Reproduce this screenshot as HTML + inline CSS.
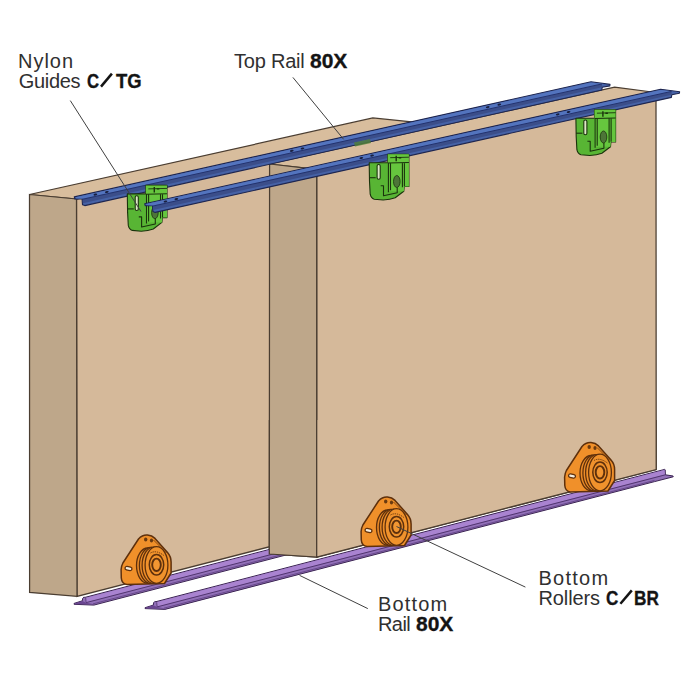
<!DOCTYPE html>
<html><head><meta charset="utf-8"><style>
html,body{margin:0;padding:0;background:#fff;width:700px;height:700px;overflow:hidden}
svg{position:absolute;left:0;top:0}
.t{position:absolute;font-family:"Liberation Sans",sans-serif;line-height:20px;color:#303030;white-space:nowrap}
.b{-webkit-text-stroke:0.35px #141414;color:#141414}
</style></head><body>
<svg width="700" height="700" viewBox="0 0 700 700">
<defs><clipPath id="lowclip"><rect x="0" y="420" width="700" height="200"/></clipPath></defs>
<polygon points="76.5,199.0 419.0,122.6 419.0,508.2 77.0,596.4" fill="#d5b99a" stroke="#4a3d31" stroke-width="1.25"/>
<polygon points="29.5,194.5 372.8,118.0 419.0,122.6 76.5,199.0" fill="#d8bd9d" stroke="#4a3d31" stroke-width="1.25"/>
<polygon points="29.5,194.5 76.5,199.0 77.0,596.4 29.6,592.4" fill="#bea78a" stroke="#4a3d31" stroke-width="1.25"/>
<polygon points="316.7,169.3 656.0,92.5 656.2,469.5 316.7,557.1" fill="#d5b99a" stroke="#4a3d31" stroke-width="1.25"/>
<polygon points="269.6,164.0 614.6,87.1 656.0,92.5 316.7,169.3" fill="#d8bd9d" stroke="#4a3d31" stroke-width="1.25"/>
<polygon points="269.6,164.0 316.7,169.3 316.7,557.1 269.3,554.0" fill="#bea78a" stroke="#4a3d31" stroke-width="1.25"/>
<polygon points="74.3,196.9 591.0,81.8 610.0,84.4 609.8,85.9 602.2,87.3 601.8,90.0 84.8,205.6 82.5,204.7 82.1,198.9 77.7,198.7 74.9,199.0" fill="#4662a6" stroke="#1e2650" stroke-width="1.1" stroke-linejoin="round"/>
<polygon points="75.5,197.3 591.0,82.5 608.5,84.5 601.0,84.2 82.1,198.8 76.3,198.5" fill="#5374be"/>
<polygon points="82.8,199.6 602.0,84.3 602.0,87.3 82.8,203.3" fill="#3b4e8a"/>
<line x1="82.1" y1="199.4" x2="602.0" y2="83.9" stroke="#1f2c66" stroke-width="0.9"/>
<ellipse cx="95.4" cy="194.6" rx="1.9" ry="1.0" fill="#1a2040" transform="rotate(-12 95.4 194.6)"/>
<ellipse cx="106.9" cy="192.0" rx="1.9" ry="1.0" fill="#1a2040" transform="rotate(-12 106.9 192.0)"/>
<ellipse cx="291.8" cy="150.8" rx="1.9" ry="1.0" fill="#1a2040" transform="rotate(-12 291.8 150.8)"/>
<ellipse cx="302.5" cy="148.5" rx="1.9" ry="1.0" fill="#1a2040" transform="rotate(-12 302.5 148.5)"/>
<ellipse cx="487.7" cy="107.2" rx="1.9" ry="1.0" fill="#1a2040" transform="rotate(-12 487.7 107.2)"/>
<ellipse cx="499.3" cy="104.6" rx="1.9" ry="1.0" fill="#1a2040" transform="rotate(-12 499.3 104.6)"/>
<g transform="translate(127.3,185.4)" stroke="#1a330c" stroke-width="1.1" stroke-linejoin="round" fill="none">
<path d="M0,8.5 L0.3,27 L1,40 Q1.8,44 5,45 L14,45.8 Q21,45.5 26,43.6 L34.6,37 L35,32.2 L39.7,32.2 L39.7,0 L18.6,0 L18.6,8.5 Z" fill="#58b534"/>
<path d="M18.6,0 L39.7,0 L39.7,32.2 L35,32.2 L34.6,37 L18.6,37 Z" fill="#66c63e" stroke="none"/>
<path d="M19.2,8.5 L19.2,38 M21.3,9 L21.3,36 M33.2,9 L33.2,33 M35.2,8 L35.2,32 M18.6,8.8 L39.7,8.3" />
<path d="M21,3.5 L39.7,3" stroke-width="0.9"/>
<path d="M11.5,31.5 L14.3,31.5 L14.3,41.6 L28,38.6 L28,33.2" />
<path d="M0.2,23.5 L6.5,23.5" />
<path d="M27,1.5 L27,7 M29.5,3.5 L32,3.5" stroke-width="1.4"/>
<rect x="7.9" y="10.3" width="3.1" height="14.8" rx="1.5" fill="#dfe8c8"/>
<ellipse cx="27.6" cy="27.3" rx="3.3" ry="6" fill="#4d7538" stroke-width="0.8"/>
</g>
<polygon points="354,142.5 370,139 371,143 355,146.5" fill="#4f7c3a" opacity="0.85"/>
<polygon points="144.7,203.7 660.6,89.2 679.6,91.8 679.4,93.3 671.8,94.7 671.4,97.4 155.2,212.4 152.9,211.5 152.5,205.7 148.1,205.5 145.3,205.8" fill="#4662a6" stroke="#1e2650" stroke-width="1.1" stroke-linejoin="round"/>
<polygon points="145.9,204.1 660.6,89.9 678.1,91.9 670.6,91.6 152.5,205.6 146.7,205.3" fill="#5374be"/>
<polygon points="153.2,206.4 671.6,91.8 671.6,94.8 153.2,210.1" fill="#3b4e8a"/>
<line x1="152.5" y1="206.2" x2="671.6" y2="91.4" stroke="#1f2c66" stroke-width="0.9"/>
<ellipse cx="165.5" cy="201.5" rx="1.9" ry="1.0" fill="#1a2040" transform="rotate(-12 165.5 201.5)"/>
<ellipse cx="176.4" cy="199.1" rx="1.9" ry="1.0" fill="#1a2040" transform="rotate(-12 176.4 199.1)"/>
<ellipse cx="361.4" cy="158.0" rx="1.9" ry="1.0" fill="#1a2040" transform="rotate(-12 361.4 158.0)"/>
<ellipse cx="372.1" cy="155.6" rx="1.9" ry="1.0" fill="#1a2040" transform="rotate(-12 372.1 155.6)"/>
<ellipse cx="557.7" cy="114.4" rx="1.9" ry="1.0" fill="#1a2040" transform="rotate(-12 557.7 114.4)"/>
<ellipse cx="568.6" cy="112.0" rx="1.9" ry="1.0" fill="#1a2040" transform="rotate(-12 568.6 112.0)"/>
<g transform="translate(369.2,154.2)" stroke="#1a330c" stroke-width="1.1" stroke-linejoin="round" fill="none">
<path d="M0,8.5 L0.3,27 L1,40 Q1.8,44 5,45 L14,45.8 Q21,45.5 26,43.6 L34.6,37 L35,32.2 L39.7,32.2 L39.7,0 L18.6,0 L18.6,8.5 Z" fill="#58b534"/>
<path d="M18.6,0 L39.7,0 L39.7,32.2 L35,32.2 L34.6,37 L18.6,37 Z" fill="#66c63e" stroke="none"/>
<path d="M19.2,8.5 L19.2,38 M21.3,9 L21.3,36 M33.2,9 L33.2,33 M35.2,8 L35.2,32 M18.6,8.8 L39.7,8.3" />
<path d="M21,3.5 L39.7,3" stroke-width="0.9"/>
<path d="M11.5,31.5 L14.3,31.5 L14.3,41.6 L28,38.6 L28,33.2" />
<path d="M0.2,23.5 L6.5,23.5" />
<path d="M27,1.5 L27,7 M29.5,3.5 L32,3.5" stroke-width="1.4"/>
<rect x="7.9" y="10.3" width="3.1" height="14.8" rx="1.5" fill="#dfe8c8"/>
<ellipse cx="27.6" cy="27.3" rx="3.3" ry="6" fill="#4d7538" stroke-width="0.8"/>
</g>
<g transform="translate(575.9,109.7)" stroke="#1a330c" stroke-width="1.1" stroke-linejoin="round" fill="none">
<path d="M0,8.5 L0.3,27 L1,40 Q1.8,44 5,45 L14,45.8 Q21,45.5 26,43.6 L34.6,37 L35,32.2 L39.7,32.2 L39.7,0 L18.6,0 L18.6,8.5 Z" fill="#58b534"/>
<path d="M18.6,0 L39.7,0 L39.7,32.2 L35,32.2 L34.6,37 L18.6,37 Z" fill="#66c63e" stroke="none"/>
<path d="M19.2,8.5 L19.2,38 M21.3,9 L21.3,36 M33.2,9 L33.2,33 M35.2,8 L35.2,32 M18.6,8.8 L39.7,8.3" />
<path d="M21,3.5 L39.7,3" stroke-width="0.9"/>
<path d="M11.5,31.5 L14.3,31.5 L14.3,41.6 L28,38.6 L28,33.2" />
<path d="M0.2,23.5 L6.5,23.5" />
<path d="M27,1.5 L27,7 M29.5,3.5 L32,3.5" stroke-width="1.4"/>
<rect x="7.9" y="10.3" width="3.1" height="14.8" rx="1.5" fill="#dfe8c8"/>
<ellipse cx="27.6" cy="27.3" rx="3.3" ry="6" fill="#4d7538" stroke-width="0.8"/>
</g>
<polygon points="74.1,603.4 82.3,600.8 82.7,598.3 83.9,597.1 84.9,597.4 600.0,463.5 600.6,463.9 600.8,468.9 608.5,470.1 608.6,470.9 590.0,475.7 93.9,605.1 74.1,604.3" fill="#9270b8" stroke="#3b2452" stroke-width="1" stroke-linejoin="round"/>
<polygon points="85.3,598.0 599.8,464.1 600.4,468.5 86.1,602.5" fill="#a983d0"/>
<line x1="86.1" y1="602.6" x2="600.8" y2="468.9" stroke="#4a2e66" stroke-width="0.9"/>
<line x1="85.7" y1="598.0" x2="86.1" y2="602.5" stroke="#4a2e66" stroke-width="0.8"/>
<polygon points="74.9,603.5 82.3,601.0 86.1,602.7 93.9,604.3 74.9,604.2" fill="#6a4690" stroke="none"/>
<line x1="92.9" y1="603.9" x2="590.0" y2="474.5" stroke="#5d3f80" stroke-width="0.8"/>
<polygon points="269.6,164.0 316.7,169.3 316.7,557.1 269.3,554.0" fill="#bea78a" stroke="#4a3d31" stroke-width="1.25" clip-path="url(#lowclip)"/>
<polygon points="316.7,169.3 656.0,92.5 656.2,469.5 316.7,557.1" fill="#d5b99a" stroke="#4a3d31" stroke-width="1.25" clip-path="url(#lowclip)"/>
<polygon points="145.1,607.7 153.3,605.1 153.7,602.6 154.9,601.4 155.9,601.7 664.6,469.4 665.2,469.8 665.4,474.8 673.1,476.0 673.2,476.8 654.6,481.6 164.9,609.4 145.1,608.6" fill="#9270b8" stroke="#3b2452" stroke-width="1" stroke-linejoin="round"/>
<polygon points="156.3,602.3 664.4,470.0 665.0,474.4 157.1,606.8" fill="#a983d0"/>
<line x1="157.1" y1="606.9" x2="665.4" y2="474.8" stroke="#4a2e66" stroke-width="0.9"/>
<line x1="156.7" y1="602.3" x2="157.1" y2="606.8" stroke="#4a2e66" stroke-width="0.8"/>
<polygon points="145.9,607.8 153.3,605.3 157.1,607.0 164.9,608.6 145.9,608.5" fill="#6a4690" stroke="none"/>
<line x1="163.9" y1="608.2" x2="654.6" y2="480.4" stroke="#5d3f80" stroke-width="0.8"/>
<g transform="translate(156.5,565.0)" stroke="#5e300c" stroke-width="1.3" stroke-linejoin="round">
<path d="M-18,-26 Q-14,-30.3 -9,-29.9 Q-4.5,-29.5 -1.5,-26.6 L11,-12.5 Q14.6,-8.5 14.6,-3 L14.6,8 L8,18.5 L-29.5,19.4 Q-34.8,18.8 -35.2,13 L-35.4,4.5 Q-35,0.5 -33.6,-2 Z" fill="#f0902a" stroke-width="1.5"/>
<path d="M-3,-25 L10,-12" fill="none" stroke-width="0.9" opacity="0.8"/>
<ellipse cx="-8.8" cy="0.6" rx="11.2" ry="17.6" fill="#ea8a26"/>
<ellipse cx="-5.8" cy="0.4" rx="11.3" ry="17.9" fill="#ec8c28"/>
<ellipse cx="-3.0" cy="0.2" rx="11.4" ry="18.1" fill="#ee8e28"/>
<ellipse cx="0" cy="0" rx="11.4" ry="18.3" fill="#f0922c"/>
<ellipse cx="0" cy="-0.2" rx="7.2" ry="10.2" fill="#f0922c" stroke-width="1.5"/>
<ellipse cx="0" cy="-0.2" rx="4.3" ry="6.2" fill="#f29632" stroke-width="1.9"/>
<path d="M-6,-12 Q0,-15.5 8,-9" fill="none" stroke-width="0.9" stroke-dasharray="1.3 0.9"/>
<ellipse cx="-10.8" cy="-25.5" rx="1.7" ry="2.1" fill="#6a3a10" stroke="none"/>
<ellipse cx="-5.0" cy="-24.4" rx="1.6" ry="2.0" fill="#6a3a10" stroke="none"/>
<rect x="-31.5" y="1.8" width="7" height="3.4" rx="1.7" fill="#f3ecdf" transform="rotate(12 -28 3.5)"/>
</g>
<g transform="translate(396.5,527.0)" stroke="#5e300c" stroke-width="1.3" stroke-linejoin="round">
<path d="M-18,-26 Q-14,-30.3 -9,-29.9 Q-4.5,-29.5 -1.5,-26.6 L11,-12.5 Q14.6,-8.5 14.6,-3 L14.6,8 L8,18.5 L-29.5,19.4 Q-34.8,18.8 -35.2,13 L-35.4,4.5 Q-35,0.5 -33.6,-2 Z" fill="#f0902a" stroke-width="1.5"/>
<path d="M-3,-25 L10,-12" fill="none" stroke-width="0.9" opacity="0.8"/>
<ellipse cx="-8.8" cy="0.6" rx="11.2" ry="17.6" fill="#ea8a26"/>
<ellipse cx="-5.8" cy="0.4" rx="11.3" ry="17.9" fill="#ec8c28"/>
<ellipse cx="-3.0" cy="0.2" rx="11.4" ry="18.1" fill="#ee8e28"/>
<ellipse cx="0" cy="0" rx="11.4" ry="18.3" fill="#f0922c"/>
<ellipse cx="0" cy="-0.2" rx="7.2" ry="10.2" fill="#f0922c" stroke-width="1.5"/>
<ellipse cx="0" cy="-0.2" rx="4.3" ry="6.2" fill="#f29632" stroke-width="1.9"/>
<path d="M-6,-12 Q0,-15.5 8,-9" fill="none" stroke-width="0.9" stroke-dasharray="1.3 0.9"/>
<ellipse cx="-10.8" cy="-25.5" rx="1.7" ry="2.1" fill="#6a3a10" stroke="none"/>
<ellipse cx="-5.0" cy="-24.4" rx="1.6" ry="2.0" fill="#6a3a10" stroke="none"/>
<rect x="-31.5" y="1.8" width="7" height="3.4" rx="1.7" fill="#f3ecdf" transform="rotate(12 -28 3.5)"/>
</g>
<g transform="translate(600.0,472.5)" stroke="#5e300c" stroke-width="1.3" stroke-linejoin="round">
<path d="M-18,-26 Q-14,-30.3 -9,-29.9 Q-4.5,-29.5 -1.5,-26.6 L11,-12.5 Q14.6,-8.5 14.6,-3 L14.6,8 L8,18.5 L-29.5,19.4 Q-34.8,18.8 -35.2,13 L-35.4,4.5 Q-35,0.5 -33.6,-2 Z" fill="#f0902a" stroke-width="1.5"/>
<path d="M-3,-25 L10,-12" fill="none" stroke-width="0.9" opacity="0.8"/>
<ellipse cx="-8.8" cy="0.6" rx="11.2" ry="17.6" fill="#ea8a26"/>
<ellipse cx="-5.8" cy="0.4" rx="11.3" ry="17.9" fill="#ec8c28"/>
<ellipse cx="-3.0" cy="0.2" rx="11.4" ry="18.1" fill="#ee8e28"/>
<ellipse cx="0" cy="0" rx="11.4" ry="18.3" fill="#f0922c"/>
<ellipse cx="0" cy="-0.2" rx="7.2" ry="10.2" fill="#f0922c" stroke-width="1.5"/>
<ellipse cx="0" cy="-0.2" rx="4.3" ry="6.2" fill="#f29632" stroke-width="1.9"/>
<path d="M-6,-12 Q0,-15.5 8,-9" fill="none" stroke-width="0.9" stroke-dasharray="1.3 0.9"/>
<ellipse cx="-10.8" cy="-25.5" rx="1.7" ry="2.1" fill="#6a3a10" stroke="none"/>
<ellipse cx="-5.0" cy="-24.4" rx="1.6" ry="2.0" fill="#6a3a10" stroke="none"/>
<rect x="-31.5" y="1.8" width="7" height="3.4" rx="1.7" fill="#f3ecdf" transform="rotate(12 -28 3.5)"/>
</g>
<line x1="70.3" y1="100.6" x2="141" y2="211.5" stroke="#404040" stroke-width="1"/>
<line x1="292.9" y1="77.4" x2="343.6" y2="139.3" stroke="#404040" stroke-width="1"/>
<line x1="525.4" y1="587.1" x2="396.5" y2="526.5" stroke="#404040" stroke-width="1"/>
<line x1="367.8" y1="608.6" x2="299.6" y2="575.4" stroke="#404040" stroke-width="1"/>
<line x1="101.0" y1="86.6" x2="111.9" y2="73.6" stroke="#141414" stroke-width="2.5"/>
<line x1="620.4" y1="603.8" x2="631.8" y2="590.4" stroke="#141414" stroke-width="2.5"/>
</svg>
<div class="t" style="left:18.1px;top:51.0px;font-size:20px;font-weight:normal;letter-spacing:0.95px">Nylon</div>
<div class="t" style="left:18.7px;top:71.0px;font-size:20px;font-weight:normal;letter-spacing:-0.30px">Guides</div>
<div class="t b" style="left:86.6px;top:71.0px;font-size:20px;font-weight:bold;transform:scaleX(0.838);transform-origin:0 0">C</div>
<div class="t b" style="left:115.7px;top:71.0px;font-size:20px;font-weight:bold;transform:scaleX(0.922);transform-origin:0 0">TG</div>
<div class="t" style="left:234.0px;top:51.0px;font-size:20px;font-weight:normal;letter-spacing:-0.21px">Top Rail</div>
<div class="t b" style="left:310.0px;top:51.0px;font-size:21px;font-weight:bold;letter-spacing:0.00px">80X</div>
<div class="t" style="left:538.5px;top:568.0px;font-size:20px;font-weight:normal;letter-spacing:1.26px">Bottom</div>
<div class="t" style="left:538.5px;top:588.0px;font-size:20px;font-weight:normal;letter-spacing:-0.12px">Rollers</div>
<div class="t b" style="left:606.1px;top:588.0px;font-size:20px;font-weight:bold;transform:scaleX(0.854);transform-origin:0 0">C</div>
<div class="t b" style="left:634.4px;top:588.0px;font-size:20px;font-weight:bold;transform:scaleX(0.859);transform-origin:0 0">BR</div>
<div class="t" style="left:378.0px;top:594.0px;font-size:20px;font-weight:normal;letter-spacing:1.14px">Bottom</div>
<div class="t" style="left:378.0px;top:614.0px;font-size:20px;font-weight:normal;letter-spacing:-0.57px">Rail</div>
<div class="t b" style="left:416.1px;top:614.0px;font-size:21px;font-weight:bold;letter-spacing:-0.10px">80X</div>

</body></html>
